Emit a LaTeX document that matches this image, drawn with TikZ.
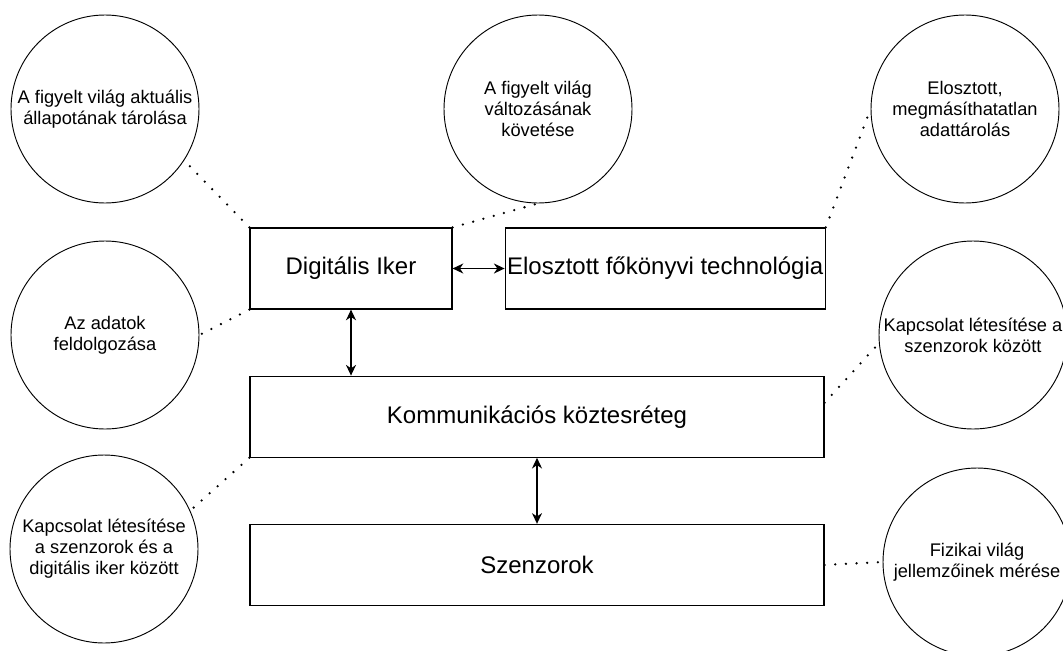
\documentclass[tikz,border=0pt]{standalone}
\usepackage{fontspec}
\setmainfont{Liberation Sans}
\usepackage{tikz}
\usetikzlibrary{
  positioning,
  arrows.meta,
  calc
}
\tikzset{
  layerbox/.style={
    draw=black, line width=0.9pt, inner sep=0pt,
    minimum height=60.75pt,
    font=\fontsize{18}{21}\selectfont, align=center
  },
  taskcircle/.style={
    draw=black, line width=0.7pt, circle, inner sep=0pt,
    minimum size=141pt,
    font=\fontsize{13.7}{15.75}\selectfont, align=center
  },
  linkarrow/.style={
    {Stealth[length=8pt,width=7.5pt,inset=2.5pt]}-{Stealth[length=8pt,width=7.5pt,inset=2.5pt]},
    line width=0.9pt
  },
  dotline/.style={
    line width=1.9pt, line cap=round, dash pattern=on 0pt off 8pt
  }
}

\begin{document}
\begin{tikzpicture}[x=0.75pt, y=-0.75pt]
    \useasboundingbox (0,0) rectangle (1063,650);

    % Layers
    \node[layerbox, minimum width=151.5pt] (dt) at (351,268.5) {Digitális Iker};
    \node[layerbox, minimum width=240pt, right=39pt of dt] (dlt) {Elosztott főkönyvi technológia};
    \node[layerbox, minimum width=430.5pt, below=49.5pt of dt.south west, anchor=north west] (kr) {Kommunikációs köztesréteg};
    \node[layerbox, minimum width=430.5pt, below=49.5pt of kr] (sz) {Szenzorok};

    % Left column: tasks
    \node[taskcircle] (c1) at (105,109) {A figyelt világ aktuális\\állapotának tárolása};
    \node[taskcircle] (c4) at (105,335) {Az adatok\\feldolgozása};
    \node[taskcircle] (c6) at (104,549) {Kapcsolat létesítése\\a szenzorok és a\\digitális iker között};

    % Middle
    \node[taskcircle] (c2) at (538,109) {A figyelt világ\\változásának\\követése};

    % Right column: tasks
    \node[taskcircle] (c3) at (965,109) {Elosztott,\\megmásíthatatlan\\adattárolás};
    \node[taskcircle] (c5) at (973,335) {Kapcsolat létesítése a\\szenzorok között};
    \node[taskcircle] (c7) at (977,562) {Fizikai világ\\jellemzőinek mérése};

    % Arrows between layers
    \draw[linkarrow] (dt.east) -- (dlt.west);
    \draw[linkarrow] (dt.south) -- (dt.south |- kr.north);
    \draw[linkarrow] (kr.south) -- (sz.north);

    % Dotted links: layer -> task
    \draw[dotline] (dt.north west) -- (c1.-33);
    \draw[dotline] (dt.north east) -- (c2.south);
    \draw[dotline] (dlt.north east) -- (c3.west);
    \draw[dotline] (dt.south west) -- (c4.east);
    \draw[dotline] ($(kr.north east)!0.33!(kr.south east)$) -- (c5.185);
    \draw[dotline] (kr.south west) -- (c6.24);
    \draw[dotline] (sz.east) -- (c7.west);

\end{tikzpicture}
\end{document}
